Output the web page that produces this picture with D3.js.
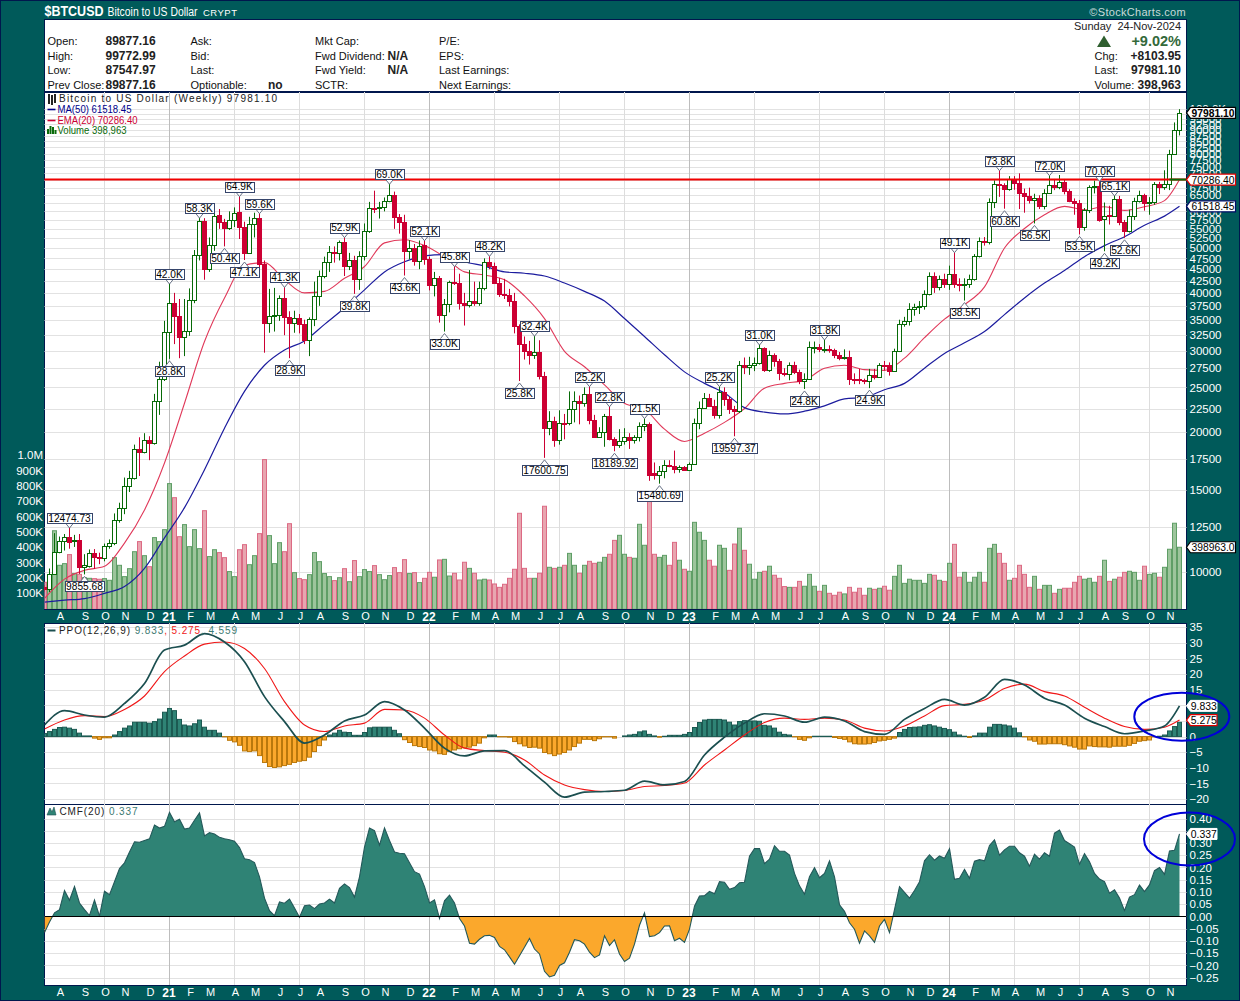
<!DOCTYPE html>
<html><head><meta charset="utf-8"><title>$BTCUSD</title>
<script src="https://cdn.jsdelivr.net/npm/d3@7/dist/d3.min.js"></script>
<style>html,body{margin:0;padding:0;background:#005a5a}svg{display:block}text{font-family:"Liberation Sans",Arial,sans-serif}</style>
</head><body><svg id="c" width="1240" height="1001"></svg>
<script>
// ---------- DATA ----------
const opens=[9280,9170,9900,11030,11660,11900,11660,11700,10220,10300,
10950,10770,10670,11330,11500,12950,13740,15330,15930,18370,
18100,19200,18950,23300,26000,32900,38100,35600,32100,33100,
38600,48300,57300,45000,50700,58800,56900,55200,57600,59700,
55600,48800,56300,58000,46100,34500,35600,35800,39000,35500,
34500,35300,34200,31600,35100,39300,43500,46600,49000,48800,
51500,45700,47000,42900,48100,54300,61000,60900,61300,63100,
65000,58300,56900,49200,50000,46900,50700,47300,41500,43000,
35900,37800,42200,42000,38100,37700,38400,38000,41000,46600,
45800,42000,39700,39500,38500,33900,31000,30000,29300,29800,
26400,20400,21100,19200,20900,20900,22400,23300,23100,24150,
21200,19500,20000,21700,19300,18800,19100,19500,19250,19550,
20650,20850,16300,16200,16450,16950,16900,16650,16800,16600,
17100,20900,22600,23750,22800,21750,24400,23600,22400,22200,
27900,27700,27950,28200,30400,27300,29300,28500,26900,26750,
28000,27000,25850,26100,30500,30600,30200,30300,30100,29300,
29000,29100,26100,26000,25900,25850,26600,26300,27900,27900,
27100,29900,34200,34800,36900,37300,37400,39800,43600,41200,
42900,41900,43900,41800,41600,41800,42800,48100,51900,51500,
62900,68900,68300,67000,70600,69000,65700,64900,63500,64000,
61500,65800,68500,67700,69500,66500,63300,62700,55400,60300,
67700,68100,57700,58800,58600,63700,56900,54300,58600,63200,
65000,62500,62900,68900,67800,68700,79800,89877.16];
const closes=[9170,9900,11030,11660,11900,11560,11700,10220,10320,10950,
10770,10670,11330,11500,12950,13740,15330,15930,18370,18100,
19200,18950,23300,26000,32900,38100,35600,32100,33100,38600,
48300,57300,45000,50700,58600,56900,55200,57600,59500,55600,
48800,56300,58000,46100,34500,35600,35800,39000,35500,34500,
35300,34200,31600,35100,39300,43500,46600,49000,48800,51500,
45700,47000,42900,48100,54300,61000,60900,61300,63100,65000,
58300,56900,49200,50000,46900,50600,47300,41500,43000,35900,
37800,42200,42000,38100,37700,38400,38000,41000,46600,45800,
42000,39700,39500,38500,33900,31000,30000,29300,29800,26400,
20400,21100,19200,20900,20800,22400,23300,23100,24150,21200,
19500,20000,21700,19300,18800,19100,19500,19250,19550,20650,
20850,16200,16200,16450,16950,16900,16650,16800,16600,17100,
20900,22600,23750,22800,21750,24400,23600,22400,22200,27900,
27700,28000,28200,30400,27300,29300,28500,26900,26750,28000,
27000,25850,26100,30500,30600,30200,30300,30100,29300,29000,
29100,26100,26000,25900,25800,26600,26300,27900,27800,27100,
29900,34200,34800,36900,37300,37400,39800,43500,41200,42900,
41900,43900,41800,41600,41800,42800,48100,51900,51500,62900,
68900,68300,67000,70600,69000,65700,64900,63500,64000,61500,
65800,68500,67700,69500,66500,63200,62700,55400,60300,67700,
68100,57600,58500,58600,63700,56900,54300,58600,63200,65000,
62500,62900,68900,67800,68700,79800,89877.16,97981.10];
const highs=[9350,10150,12100,11900,12050,12474.73,12000,12050,10900,11160,
11180,10980,11490,11730,13350,14080,15960,16500,18800,19500,
19900,19600,24200,28400,34800,42000,40000,38800,38800,40900,
49500,58300,58000,52700,61800,60700,57800,60000,61200,64900,
57000,58400,59600,59600,47000,40800,41000,39500,41300,36500,
36600,36000,35000,35400,42300,44700,47900,50500,50400,51900,
52900,48800,48100,49200,56500,62900,66500,62900,64300,69000,
66200,59200,59000,52000,51000,51900,52100,47900,44400,43500,
38800,42500,45800,44000,40000,44800,42300,42300,47500,48200,
46500,43100,42900,40800,40000,34200,32200,31500,32400,31600,
27000,22200,21600,22300,21900,24500,24500,24000,25000,25200,
21800,20500,21900,22800,19500,20300,20400,19900,19700,21000,
21500,21000,17200,16900,17400,17400,18250,16950,16900,17200,
21400,23300,24300,24200,23500,25200,25000,23900,22800,28500,
29000,29100,29000,31000,30500,30000,29600,28800,27500,28300,
28400,27300,26800,31400,31400,31000,31800,30800,30300,29800,
30200,30000,26800,27400,26100,27400,27400,28200,28500,28300,
30300,35000,35500,38000,37900,38400,40500,44300,44300,43600,
44000,45800,49100,43000,43000,43800,48500,52700,52800,64000,
70000,73800,69000,71500,71500,72500,67200,67500,65500,65000,
67000,72000,70500,71900,70500,67000,64000,63500,61000,68300,
69900,70000,62700,61700,65100,64800,57500,60500,64200,66500,
65500,64400,69400,69500,73600,81500,93400,99772.99];
const lows=[9050,9030,9880,10950,11100,11200,11300,9880,9855.68,10200,
10130,10370,10520,11200,11400,12750,13300,14850,15800,16080,
18000,17400,18800,21800,25800,28800,31000,28900,29200,32300,
38000,47000,42700,44400,49300,55000,50400,54700,55500,52300,
47100,48800,52700,43800,29700,32800,33000,34800,32400,28900,
32800,32700,31000,29200,33900,37500,43000,44400,46500,47000,
43500,44800,39800,40600,47000,53900,59500,57900,60000,62800,
55000,53700,43600,47300,45800,45000,46000,40500,39300,34500,
33000,36300,41600,36800,34000,37200,37500,37500,40500,45000,
41900,39200,38800,37400,32700,25800,28700,28000,28800,26000,
17600.75,19700,18600,18800,19300,20700,21000,20800,22700,20800,
19500,19600,18600,19200,18189.92,18500,18800,18400,18900,19100,
20100,15700,15800,15480.69,15900,16800,16300,16350,16500,16550,
17000,20300,22500,22700,21400,21400,22800,21900,19597.37,22000,
26700,26600,27100,28000,27000,27000,27700,25900,26400,25900,
26700,25400,24800,26000,29600,29800,29700,29700,28900,28600,
28700,25300,25400,25400,25400,24900,26000,26200,27200,26500,
27000,29800,33800,34000,35700,36000,36800,39500,40000,40500,
41000,40600,41000,40300,38500,41000,42500,47700,50600,50900,
61000,64500,60800,66500,66800,60700,59600,62400,56500,60700,
60600,65500,66700,67000,65300,62800,59000,53500,54500,59500,
65600,57000,49200,56200,58500,56000,52600,54000,57500,62700,
60200,59000,62000,65400,66800,66700,79800,87547.97];
const volumes=[170,218,507,281,292,351,227,222,200,196,
194,190,194,183,331,281,207,259,370,436,
344,272,462,436,514,815,723,468,547,403,
514,390,638,338,383,364,331,240,207,383,
416,285,344,488,972,475,292,429,370,553,
233,194,187,220,364,305,227,207,181,200,
259,174,312,207,253,240,279,220,187,214,
266,233,318,227,233,168,196,235,203,316,
320,211,229,185,301,261,229,185,190,185,
159,137,157,196,255,621,261,196,196,229,
667,268,261,268,281,359,281,229,281,307,
294,301,333,353,444,477,353,333,327,549,
412,760,353,333,346,281,431,314,255,242,
562,497,444,314,275,412,392,248,420,523,
379,288,190,235,242,275,216,196,142,137,
137,176,144,222,144,111,150,98,85,105,
94,137,105,131,85,131,124,131,144,118,
209,281,163,190,183,183,163,222,216,183,
176,294,418,203,235,170,203,235,170,392,
418,359,294,183,196,281,222,137,209,124,
150,150,98,124,131,131,170,209,190,196,
170,209,314,176,190,203,235,242,235,183,
275,222,229,203,268,386,556,398.963];
const redVolumeBars=[0,5,7,10,11,19,21,26,27,32,35,36,39,40,43,44,48,49,51,52,58,60,62,66,70,71,72,74,76,77,79,82,83,84,86,89,90,91,92,93,94,95,96,97,99,100,102,104,107,109,110,113,114,117,121,122,125,126,128,133,134,137,138,140,144,146,147,148,150,151,155,157,158,159,161,162,163,164,166,168,169,178,180,182,183,188,191,192,194,195,196,197,199,202,204,205,206,207,211,213,215,216,220,223];
// sampled line series, one reading at each of these bars
const sampleBars=[0,4,8,12,16,20,24,28,32,36,40,44,48,52,56,60,64,68,72,76,80,84,88,92,96,100,104,108,112,116,120,124,128,132,136,140,144,148,152,156,160,164,168,172,176,180,184,188,192,196,200,204,208,212,216,220,224,227];
const ema20=[8750,9630,10060,10260,11520,13580,17160,23100,31400,39000,45900,46500,42700,40000,40300,43000,45600,51300,52100,50600,47800,44400,43700,42700,39400,35200,29900,27700,25300,23100,22400,20300,19100,19900,21000,22500,24900,25500,25900,27500,27900,27300,27200,28900,32000,35100,37700,41200,50000,55100,59000,61500,60500,61400,60300,61400,63300,70286.40];
const ma50=[8590,8670,8740,8970,9280,10160,11820,13740,16590,20400,24500,27900,30100,31500,34200,37100,40600,44400,46700,48100,48400,46700,45700,44400,44100,43500,42000,40300,38400,35200,32200,29400,27000,25500,24300,22600,22100,21900,22200,22800,23600,23800,24700,25500,27500,29600,31200,33000,35900,39000,42000,44700,47900,50600,52900,56000,58600,61518.45];
const ppoLine=[3.7,8.3,6.9,6.2,10.6,17,27.7,29.3,33,30.3,24,12.8,4.8,-2.1,.5,5,6.9,11.2,8.5,2.7,-3.7,-6.2,-4.6,-4.5,-9.4,-14.6,-19.4,-17.8,-17.6,-17.2,-14.3,-15.5,-14.4,-5.9,-.2,4.3,7.3,6.6,4.6,6.2,5,1.6,.7,5.5,9,11.9,10.1,12.6,18.3,16.5,12.3,10.1,5.9,3.2,.9,1.8,3.4,9.833];
const ppoSignal=[2.4,5.3,6.7,6.4,8.7,13,20.8,25.8,29.6,30.3,28.2,21.8,11.2,3.7,1.6,3.4,4.3,8.7,8.5,5.9,.5,-3.7,-4.5,-5,-7.5,-12.3,-15.5,-17,-17.6,-17.3,-16,-15.7,-14.9,-9.1,-4.3,.5,4.5,5.9,5.5,5.9,5.3,2.7,1.8,3.4,6.6,9.9,10.3,11.7,15.4,16.8,14.4,13,9.4,5.9,3.2,2.3,3,5.275];
const ppoHist=[1,1.6,2.3,2.9,3,2.7,2.3,1.1,.2,.2,
-.5,-.9,-.4,-.4,.5,1.6,2.7,3.4,4.6,4.6,
4.6,4.3,4.8,5.6,7.8,9,8.3,5.5,3.7,3.4,
4.1,5.3,3,2,2,1.1,-.1,-1.2,-1.7,-2.8,
-4.6,-4.8,-4.6,-6.1,-8.3,-9.6,-9.9,-9.7,-9.3,-8.9,
-8.3,-7.9,-7.7,-6.6,-4.8,-2.9,-1.1,.5,1.1,2,
1.4,1.3,.4,.4,1.3,2.8,3,3,3,3,
2,.9,-1,-1.9,-2.9,-3.2,-3.5,-4.3,-4.6,-5.5,
-5.7,-4.8,-4.3,-3.9,-3.6,-3.4,-2.9,-2.1,-.4,.5,
.5,-.1,-.1,-.2,-1.6,-2.3,-3,-3.5,-3.4,-3.7,
-5.1,-5.5,-6.1,-5.6,-5.1,-4.3,-3.2,-2.1,-.9,-.9,
-1.3,-.7,-.1,-.1,-.5,0,.2,.5,.7,1.5,
1.8,.7,.2,-.2,.1,.4,.4,.4,.7,1.3,
2.9,4.5,5.3,5.5,5.5,5.5,5.3,4.6,3.7,4.8,
5.1,5,5,4.9,3.6,3.4,2.7,1.4,.7,.5,
-.1,-.9,-1.2,-.4,.1,.1,.1,.1,-.3,-.6,
-.9,-1.7,-2.3,-2.4,-2.4,-2.3,-1.9,-1.4,-1.2,-.9,
-.5,1.3,2.3,2.9,3,3.1,3.6,3.8,3.4,3,
2.6,2.2,1.4,.5,.1,-.3,.2,1.1,1.1,3,
3.9,3.9,3.7,3.4,2.7,1.2,-.1,-1.1,-1.5,-2.4,
-2.4,-2.3,-2.3,-2.3,-2.6,-3,-3.4,-4,-4,-3,
-3.2,-3.3,-3.3,-3.4,-3.1,-3.1,-3.1,-2.8,-2.2,-1.5,
-1.3,-1.1,-.1,.1,.5,1.8,3.2,4.559];
const cmf=[-.066,-.023,.015,.028,.106,.066,.122,.055,.028,.004,
.067,.001,.103,.089,.142,.196,.219,.263,.305,.303,
.31,.317,.373,.361,.368,.425,.387,.397,.357,.361,
.393,.423,.329,.342,.337,.323,.317,.313,.307,.281,
.236,.232,.22,.162,.075,.024,.003,.059,.054,.071,
.035,-.003,.044,.047,.032,.051,.055,.071,.055,.115,
.133,.118,.079,.162,.283,.361,.35,.291,.361,.31,
.263,.258,.256,.219,.183,.173,.122,.055,.068,-.008,
.064,.087,.055,-.008,-.039,-.109,-.113,-.093,-.079,-.077,
-.086,-.122,-.136,-.165,-.195,-.16,-.126,-.09,-.133,-.153,
-.224,-.247,-.24,-.2,-.189,-.146,-.095,-.099,-.113,-.146,
-.168,-.157,-.079,-.119,-.095,-.153,-.184,-.17,-.113,-.036,
.015,-.082,-.079,-.066,-.039,-.038,-.099,-.089,-.106,-.052,
.042,.083,.085,.102,.093,.142,.14,.111,.118,.138,
.14,.246,.277,.277,.216,.234,.289,.266,.266,.251,
.176,.125,.091,.162,.199,.158,.176,.227,.162,.048,
.021,-.026,-.052,-.109,-.059,-.079,-.106,-.039,-.012,-.066,
.028,.122,.098,.075,.106,.142,.227,.252,.23,.247,
.238,.277,.152,.156,.192,.156,.226,.232,.227,.29,
.313,.25,.272,.287,.287,.26,.246,.205,.254,.234,
.26,.246,.34,.353,.31,.297,.283,.213,.256,.223,
.176,.153,.142,.095,.109,.075,.024,.079,.089,.128,
.102,.129,.187,.2,.172,.267,.27,.337];
const priceTicks=[10000,12500,15000,17500,20000,22500,25000,27500,30000,32500,35000,37500,40000,42500,45000,47500,50000,52500,55000,57500,60000,62500,65000,67500,70000,72500,75000,77500,80000,82500,85000,87500,90000,92500,95000,97500,100000];
const priceTicksUnderFlags=[62500,70000,97500];
const volumeTicks=[100,200,300,400,500,600,700,800,900,1000];
const ppoTicks=[-20,-15,-10,-5,0,5,10,15,20,25,30,35];
const ppoTicksUnderFlags=[5,10];
const cmfTicks=[-.25,-.2,-.15,-.1,-.05,0,.05,.1,.15,.2,.25,.3,.35,.4];
const cmfTicksUnderFlags=[.35];
const gridBars=[12,25,38,51,64,77,90,103,116,129,142,155,168,181,194,207,221];
const yearBars=[25,77,129,181];
const monthBars=[3,8,12,16,21,25,29,33,38,42,47,51,55,60,64,68,73,77,82,86,90,94,99,103,107,112,116,121,125,129,134,138,142,146,151,155,160,164,168,173,177,181,186,190,194,199,203,207,212,216,221,225];
const monthNames=["A","S","O","N","D","21","F","M","A","M","J","J","A","S","O","N","D","22","F","M","A","M","J","J","A","S","O","N","D","23","F","M","A","M","J","J","A","S","O","N","D","24","F","M","A","M","J","J","A","S","O","N"];
const labelBars=[5,8,25,25,31,36,40,39,43,48,49,62,60,69,72,76,80,82,89,95,98,100,109,113,114,120,123,135,138,143,152,156,165,184,182,191,192,201,198,211,214,207,212,216];
const labelTexts=["12474.73","9855.68","42.0K","28.8K","58.3K","50.4K","47.1K","64.9K","59.6K","41.3K","28.9K","39.8K","52.9K","69.0K","43.6K","52.1K","33.0K","45.8K","48.2K","25.8K","32.4K","17600.75","25.2K","22.8K","18189.92","21.5K","15480.69","25.2K","19597.37","31.0K","24.8K","31.8K","24.9K","38.5K","49.1K","73.8K","60.8K","72.0K","56.5K","70.0K","65.1K","53.5K","49.2K","52.6K"];
const labelSides=["h","l","h","l","h","l","l","h","h","h","l","l","h","h","l","h","l","h","h","l","h","l","h","h","l","h","l","h","l","h","l","h","l","l","h","h","l","h","l","h","h","l","l","l"];
const resistance=70286.40, lastClose=97981.10, lastVolume=398.963;

// ---------- SETUP ----------
const L=44.5,R=1186.5;
const svg=d3.select("#c");
const x=d3.scaleLinear([0,227],[44.5,1179.5]);
const yP=d3.scaleLog([10000,100000],[571.5,108.7]);
const yV=d3.scaleLinear([0,1000],[608.3,455.3]);
const yO=d3.scaleLinear([-20,35],[799,627.3]);
const yC=d3.scaleLinear([-.25,.4],[977.7,818.5]);
const NAVY="#00174d",BG="#005a5a",GRID="#e2e2e2",GRIDV="#dddddd",YEAR="#bdbdbd",UP="#076a07",DOWN="#cc0033";
const defs=svg.append("defs");
function clip(id,x0,y0,w,h){defs.append("clipPath").attr("id",id).append("rect").attr("x",x0).attr("y",y0).attr("width",w).attr("height",h);}
clip("pm",L,92,R-L,517);clip("po",L,623,R-L,181);clip("pc",L,804,R-L,181);
svg.append("rect").attr("width",1240).attr("height",1001).attr("fill",BG);
svg.append("rect").attr("x",.5).attr("y",.5).attr("width",1239).attr("height",1000).attr("fill","none").attr("stroke",NAVY);
[[19,72],[92,517],[623,181],[804,181]].forEach(([t,h])=>svg.append("rect").attr("x",L).attr("y",t+.5).attr("width",R-L).attr("height",h).attr("fill","#fff").attr("stroke",NAVY));

function hgrid(ticks,y,x0=L,x1=R){svg.append("g").selectAll("line").data(ticks).join("line").attr("x1",x0).attr("x2",x1).attr("y1",d=>Math.round(y(d))+.5).attr("y2",d=>Math.round(y(d))+.5).attr("stroke",GRID);}
function vgrid(t,b){svg.append("g").selectAll("line").data(gridBars).join("line").attr("x1",d=>x(d)).attr("x2",d=>x(d)).attr("y1",t).attr("y2",b).attr("stroke",d=>yearBars.includes(d)?YEAR:GRIDV);}
hgrid(priceTicks,yP);hgrid(ppoTicks,yO);hgrid(cmfTicks,yC);
vgrid(92,609);vgrid(623,804);vgrid(804,985);

// ---------- VOLUME ----------
const gMain=svg.append("g").attr("clip-path","url(#pm)");
gMain.append("g").selectAll("rect").data(volumes).join("rect")
 .attr("x",(d,i)=>x(i)-2).attr("width",4).attr("y",d=>yV(d)).attr("height",d=>yV(0)-yV(d)+1)
 .attr("fill",(d,i)=>redVolumeBars.includes(i)?"#e8a6b0":"#9dc59c")
 .attr("stroke",(d,i)=>redVolumeBars.includes(i)?"#dc6a84":"#5f9e66");

// ---------- AVERAGES ----------
const pLine=d3.line().x((d,i)=>x(sampleBars[i])).y(d=>yP(d)).curve(d3.curveMonotoneX);
gMain.append("path").attr("d",pLine(ema20)).attr("fill","none").attr("stroke","#e0395a").attr("stroke-width",1.1);
gMain.append("path").attr("d",pLine(ma50)).attr("fill","none").attr("stroke","#1c1c9e").attr("stroke-width",1.2);

// ---------- CANDLES ----------
const gc=gMain.append("g").selectAll("g").data(opens).join("g");
gc.append("line").attr("x1",(d,i)=>x(i)).attr("x2",(d,i)=>x(i)).attr("y1",(d,i)=>yP(highs[i])).attr("y2",(d,i)=>yP(lows[i]))
 .attr("stroke",(d,i)=>closes[i]>=d?UP:DOWN).attr("stroke-width",1);
gc.append("rect").attr("x",(d,i)=>x(i)-2).attr("width",4)
 .attr("y",(d,i)=>Math.round(yP(Math.max(d,closes[i])))+.5)
 .attr("height",(d,i)=>Math.max(1,Math.round(yP(Math.min(d,closes[i])))-Math.round(yP(Math.max(d,closes[i])))))
 .attr("fill",(d,i)=>closes[i]>=d?"#fff":DOWN).attr("stroke",(d,i)=>closes[i]>=d?UP:DOWN).attr("stroke-width",1);

// resistance line
svg.append("line").attr("x1",L).attr("x2",R).attr("y1",yP(resistance)).attr("y2",yP(resistance)).attr("stroke","#f00000").attr("stroke-width",2);
svg.append("line").attr("x1",x(225)).attr("x2",R).attr("y1",yP(resistance)).attr("y2",yP(resistance)).attr("stroke",UP).attr("stroke-width",2);

// ---------- HIGH / LOW LABELS ----------
const gl=svg.append("g");
labelBars.forEach((b,i)=>{
  const s=labelSides[i]=="h"?-1:1, y0=yP(s<0?highs[b]:lows[b])+(s<0?1:2), cx=x(b);
  gl.append("path").attr("d",`M${cx-4},${y0+s*5}L${cx},${y0}L${cx+4},${y0+s*5}`).attr("fill","#fff").attr("stroke","#667085");
  const t=gl.append("text").attr("x",cx).attr("y",y0+s*10+3.8).attr("text-anchor","middle").attr("font-size",10.2).attr("fill","#000").text(labelTexts[i]);
  const w=t.node().getComputedTextLength()+2.5;
  gl.insert("rect","text:last-child").attr("x",Math.round(cx-w/2)+.5).attr("y",Math.round(y0+s*10-5)+.5).attr("width",Math.round(w)).attr("height",10).attr("fill","#fff").attr("stroke","#36456b");
});

// ---------- PPO ----------
const gO=svg.append("g").attr("clip-path","url(#po)");
gO.append("g").selectAll("rect").data(ppoHist).join("rect")
 .attr("x",(d,i)=>x(i)-2).attr("width",4).attr("y",d=>Math.min(yO(d),yO(0))).attr("height",d=>Math.abs(yO(d)-yO(0)))
 .attr("fill",d=>d>=0?"#2f8375":"#fba82c").attr("stroke",d=>d>=0?"#1c5a52":"#b9780c");
const oLine=d3.line().x((d,i)=>x(sampleBars[i])).y(d=>yO(d)).curve(d3.curveMonotoneX);
gO.append("path").attr("d",oLine(ppoSignal)).attr("fill","none").attr("stroke","#f01818").attr("stroke-width",1.1);
gO.append("path").attr("d",oLine(ppoLine)).attr("fill","none").attr("stroke","#1b4f50").attr("stroke-width",1.7);

// ---------- CMF ----------
const gC=svg.append("g").attr("clip-path","url(#pc)");
const z0=yC(0);
clip("cUp",L,804,R-L,z0-804);clip("cDn",L,z0,R-L,985-z0);
const area=d3.area().x((d,i)=>x(i)).y0(z0).y1(d=>yC(d));
gC.append("path").attr("d",area(cmf)).attr("fill","#2f8375").attr("clip-path","url(#cUp)");
gC.append("path").attr("d",area(cmf)).attr("fill","#fba82c").attr("clip-path","url(#cDn)");
gC.append("path").attr("d",d3.line().x((d,i)=>x(i)).y(d=>yC(d))(cmf)).attr("fill","none").attr("stroke","#24595a").attr("stroke-width",1.1);
svg.append("line").attr("x1",L).attr("x2",R).attr("y1",Math.round(z0)+.5).attr("y2",Math.round(z0)+.5).attr("stroke","#000");

// ---------- AXES ----------
function styleAxis(g,size){g.select(".domain").remove();g.selectAll("text").attr("fill","#fff").attr("font-size",size);}
const priceFmt=d=>priceTicksUnderFlags.includes(d)?"":d==100000?"100.0K":d3.format("d")(d);
svg.append("g").attr("transform",`translate(${R},0)`).call(d3.axisRight(yP).tickValues(priceTicks).tickFormat(priceFmt).tickSize(0).tickPadding(3)).call(styleAxis,11.5);
svg.append("g").attr("transform",`translate(${L},0)`).call(d3.axisLeft(yV).tickValues(volumeTicks).tickFormat(d=>d==1000?"1.0M":d+"K").tickSize(0).tickPadding(1.5)).call(styleAxis,11.5);
svg.append("g").attr("transform",`translate(${R},0)`).call(d3.axisRight(yO).tickValues(ppoTicks).tickFormat(d=>ppoTicksUnderFlags.includes(d)?"":d3.format("d")(d)).tickSize(0).tickPadding(3)).call(styleAxis,11.5);
svg.append("g").attr("transform",`translate(${R},0)`).call(d3.axisRight(yC).tickValues(cmfTicks).tickFormat(d=>cmfTicksUnderFlags.includes(d)?"":d3.format(".2f")(d)).tickSize(0).tickPadding(3)).call(styleAxis,11.5);
[609,985].forEach(py=>{
  const ax=svg.append("g").attr("transform",`translate(.5,${py})`)
   .call(d3.axisBottom(x).tickValues(monthBars).tickFormat((d,i)=>monthNames[i]).tickSize(0).tickPadding(3)).call(styleAxis,11);
  ax.selectAll("text").attr("font-weight",t=>yearBars.includes(t)?"bold":null).attr("font-size",t=>yearBars.includes(t)?12:11).attr("dx",t=>yearBars.includes(t)?-1.5:0);
});

// ---------- RIGHT VALUE FLAGS ----------
function flag(y,txt,border,bold,x1,w){
  const x0=1186.5,b=svg.append("g");
  b.append("path").attr("d",`M${x0},${y}L${x0+4},${y-5.5}H${x1}V${y+5.5}H${x0+4}Z`).attr("fill","#fff").attr("stroke",border).attr("stroke-width",border=="#fff"?1:1.2);
  b.append("text").attr("x",(x0+4+x1)/2).attr("y",y+4).attr("text-anchor","middle").attr("font-size",11.5).attr("font-weight",bold?"bold":null).attr("fill","#000").attr("textLength",w).attr("lengthAdjust","spacingAndGlyphs").text(txt);
}
flag(yP(lastClose),"97981.10","#000",true,1235.5,43);
flag(yP(ema20[57]),"70286.40","#e00000",false,1235.5,43);
flag(yP(ma50[57]),"61518.45","#000c66",false,1235.5,43);
flag(yV(lastVolume),"398963.0","#000",false,1235.5,43);
flag(yO(ppoLine[57]),"9.833","#fff",false,1217,26);
flag(yO(ppoSignal[57]),"5.275","#e00000",false,1217,26);
flag(yC(cmf[227]),"0.337","#fff",false,1217,26);
[[1181.8,716.7,47.5,24],[1189.5,839,45.5,26.5]].forEach(e=>svg.append("ellipse").attr("cx",e[0]).attr("cy",e[1]).attr("rx",e[2]).attr("ry",e[3]).attr("fill","none").attr("stroke","#0000d8").attr("stroke-width",2));

// ---------- HEADER ----------
function T(px,py,s,o={}){const t=svg.append("text").attr("x",px).attr("y",py).attr("font-size",o.size||11).attr("fill",o.fill||"#111").text(s);
 if(o.bold)t.attr("font-weight","bold");if(o.anchor)t.attr("text-anchor",o.anchor);if(o.family)t.style("font-family",o.family);if(o.ls)t.attr("letter-spacing",o.ls);
 if(o.len)t.attr("textLength",o.len).attr("lengthAdjust",o.adj||"spacingAndGlyphs");return t;}
T(44.5,16,"$BTCUSD",{size:15.5,bold:1,fill:"#fff",len:59});
T(107.5,15.5,"Bitcoin to US Dollar",{size:12,fill:"#fff",len:90});
T(203,15.5,"CRYPT",{size:9.5,fill:"#fff",len:34,adj:"spacing"});
T(1186,16,"©StockCharts.com",{size:11,fill:"#c9dada",anchor:"end",ls:.3});
const rows=[45,59.5,74,88.5];
["Open:","High:","Low:","Prev Close:"].forEach((s,i)=>T(47.5,rows[i],s));
["89877.16","99772.99","87547.97","89877.16"].forEach((s,i)=>T(105.5,rows[i],s,{bold:1,size:12,fill:"#222"}));
["Ask:","Bid:","Last:","Optionable:"].forEach((s,i)=>T(190.5,rows[i],s));
T(268,rows[3],"no",{bold:1,size:12,fill:"#222"});
["Mkt Cap:","Fwd Dividend:","Fwd Yield:","SCTR:"].forEach((s,i)=>T(315,rows[i],s));
T(387.5,rows[1],"N/A",{bold:1,size:12,fill:"#222"});T(387.5,rows[2],"N/A",{bold:1,size:12,fill:"#222"});
["P/E:","EPS:","Last Earnings:","Next Earnings:"].forEach((s,i)=>T(439,rows[i],s));
T(1181,30,"Sunday  24-Nov-2024",{anchor:"end",fill:"#222"}).attr("xml:space","preserve");
svg.append("path").attr("d","M1097,47L1104,35.5L1111,47Z").attr("fill","#2f5f2f");
T(1181,46,"+9.02%",{anchor:"end",bold:1,size:14.5,fill:"#33693a"});
T(1094.5,59.5,"Chg:");T(1181,59.5,"+8103.95",{anchor:"end",bold:1,size:12,fill:"#222"});
T(1094.5,74,"Last:");T(1181,74,"97981.10",{anchor:"end",bold:1,size:12,fill:"#222"});
T(1094.5,88.5,"Volume:");T(1181,88.5,"398,963",{anchor:"end",bold:1,size:12,fill:"#222"});

// ---------- LEGENDS ----------
T(59,102,"Bitcoin to US Dollar (Weekly) 97981.10",{size:10,fill:"#222",len:218,adj:"spacing"});
svg.append("path").attr("d","M49,94V104M52,95V105M55,94V103").attr("stroke","#222").attr("stroke-width",2);
svg.append("line").attr("x1",47.5).attr("x2",55.5).attr("y1",109.5).attr("y2",109.5).attr("stroke","#00008b").attr("stroke-width",1.6);
T(57.5,113,"MA(50) 61518.45",{size:10,fill:"#00008b",len:74});
svg.append("line").attr("x1",47.5).attr("x2",55.5).attr("y1",120.5).attr("y2",120.5).attr("stroke","#cc0033").attr("stroke-width",1.6);
T(57.5,124,"EMA(20) 70286.40",{size:10,fill:"#cc0033",len:80});
svg.append("path").attr("d","M48,134V129M50.5,134V126M53,134V127M55.5,134V130").attr("stroke","#0a6b0a").attr("stroke-width",2);
T(57.5,134,"Volume 398,963",{size:10,fill:"#0a6b0a",len:69});
svg.append("line").attr("x1",47.5).attr("x2",55.5).attr("y1",630.5).attr("y2",630.5).attr("stroke","#1b4f50").attr("stroke-width",2);
const lt=T(59,634,"PPO(12,26,9) ",{size:10,fill:"#222",ls:.9}).attr("xml:space","preserve");
lt.append("tspan").attr("fill","#3c7a72").text("9.833");lt.append("tspan").attr("fill","#f01818").text(", 5.275");lt.append("tspan").attr("fill","#3c7a72").text(", 4.559");
svg.append("path").attr("d","M47,815L50,808L52,812L54,807L56,815Z").attr("fill","#2f8375").attr("stroke","#1b4f50").attr("stroke-width",.6);
const ct=T(59.5,815,"CMF(20) ",{size:10,fill:"#222",ls:.9}).attr("xml:space","preserve");
ct.append("tspan").attr("fill","#3c7a72").text("0.337");
</script></body></html>
